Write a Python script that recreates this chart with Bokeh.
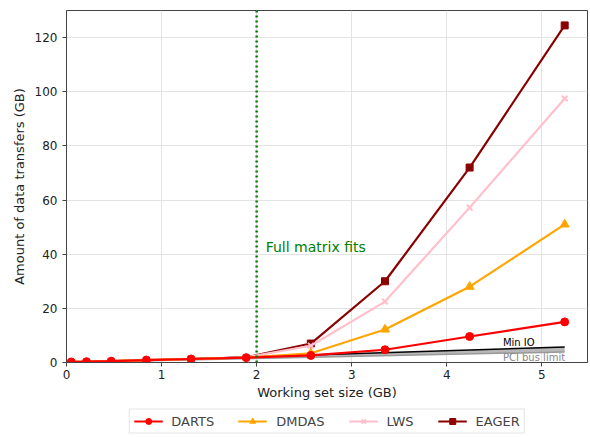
from bokeh.plotting import figure
from bokeh.layouts import column
from bokeh.models import Range1d, Legend, LegendItem, Span, Label, FixedTicker
from bokeh.embed import file_html
from bokeh.resources import INLINE

ws = [0.05, 0.21, 0.47, 0.84, 1.31, 1.89, 2.57, 3.35, 4.24, 5.24]
darts = [0.2, 0.3, 0.5, 0.9, 1.3, 1.8, 2.6, 4.7, 9.6, 15.0]
dmdas = [0.2, 0.3, 0.5, 0.9, 1.3, 1.8, 3.4, 12.2, 28.0, 51.0]
lws = [0.2, 0.3, 0.5, 0.9, 1.3, 1.9, 6.2, 22.5, 57.2, 97.5]
eager = [0.2, 0.3, 0.5, 0.9, 1.3, 1.9, 7.0, 30.0, 72.0, 124.5]
min_io_x = [0.0, 5.24]
min_io = [0.0, 5.7]
pci = [0.0, 3.9]
threshold = 2.0
series_names = ["DARTS", "DMDAS", "LWS", "EAGER"]
series_colors = ["red", "orange", "pink", "darkred"]
series_markers = ["circle", "triangle", "x", "square"]

FONT = "DejaVu Sans"

p = figure(width=590, height=405, output_backend="svg", toolbar_location=None,
           x_range=Range1d(0, 5.48), y_range=Range1d(0, 130),
           min_border_left=66, min_border_right=3, min_border_top=10, min_border_bottom=43)

p.background_fill_color = "white"
p.outline_line_color = "#444444"
p.outline_line_width = 1

for ax in (p.xaxis[0], p.yaxis[0]):
    ax.major_label_text_font = FONT
    ax.major_label_text_font_size = "12px"
    ax.major_label_text_color = "#222222"
    ax.axis_label_text_font = FONT
    ax.axis_label_text_font_size = "13px"
    ax.axis_label_text_font_style = "normal"
    ax.axis_label_text_color = "#222222"
    ax.axis_line_color = "#444444"
    ax.major_tick_line_color = "#444444"
    ax.major_tick_out = 4
    ax.major_tick_in = 0
    ax.minor_tick_line_color = None

p.xaxis.axis_label = "Working set size (GB)"
p.yaxis.axis_label = "Amount of data transfers (GB)"
p.xaxis.ticker = FixedTicker(ticks=[0, 1, 2, 3, 4, 5])
p.yaxis.ticker = FixedTicker(ticks=[0, 20, 40, 60, 80, 100, 120])
p.xaxis.axis_label_standoff = 3
p.yaxis.axis_label_standoff = 5
p.xaxis.major_label_standoff = 3

p.grid.grid_line_color = "#e3e3e3"
p.grid.grid_line_width = 1

# bounds band
p.varea(x=min_io_x, y1=pci, y2=min_io, fill_color="#888888", fill_alpha=0.6)
p.line(min_io_x, pci, line_color="#999999", line_width=1.5)
p.line(min_io_x, min_io, line_color="black", line_width=1.5)

p.line(ws, eager, line_color="darkred", line_width=2.2)
p.scatter(ws[6:], eager[6:], marker="square", size=7, fill_color="darkred", line_color="darkred")
p.line(ws, lws, line_color="pink", line_width=2.2)
p.scatter(ws[6:], lws[6:], marker="x", size=8, line_color="pink", line_width=2)
p.line(ws, dmdas, line_color="orange", line_width=2.2)
p.scatter(ws[6:], dmdas[6:], marker="triangle", size=9, fill_color="orange", line_color="orange")
p.line(ws, darts, line_color="red", line_width=2.2)
p.scatter(ws, darts, marker="circle", size=8, fill_color="red", line_color="red")

p.add_layout(Span(location=threshold, dimension="height", line_color="green",
                  line_width=2.5, line_dash="2 3"))
p.add_layout(Label(x=2.095, y=42.8, text="Full matrix fits", text_color="green",
                   text_font=FONT, text_font_size="14px", text_baseline="middle"))
p.add_layout(Label(x=4.59, y=5.3, text="Min IO", text_color="black",
                   text_font=FONT, text_font_size="10px", text_baseline="bottom"))
p.add_layout(Label(x=4.59, y=3.8, text="PCI bus limit", text_color="#888888",
                   text_font=FONT, text_font_size="10px", text_baseline="top"))

# legend strip (series drawn outside its visible range, only the legend shows)
lg = figure(width=590, height=32, output_backend="svg", toolbar_location=None,
            x_axis_type=None, y_axis_type=None, x_range=Range1d(100, 101), y_range=Range1d(1000, 1001),
            min_border=0, outline_line_color=None)
lg.grid.visible = False
items = []
for name, col, mk, ys in zip(series_names, series_colors, series_markers, [darts, dmdas, lws, eager]):
    r = lg.line(ws, ys, line_color=col, line_width=2.2)
    if mk == "x":
        m = lg.scatter(ws, ys, marker=mk, size=8, line_color=col, line_width=2)
    else:
        m = lg.scatter(ws, ys, marker=mk, size=8, fill_color=col, line_color=col)
    items.append(LegendItem(label=name, renderers=[r, m]))

legend = Legend(items=items, orientation="horizontal", location="center",
                label_text_font=FONT, label_text_font_size="13px",
                glyph_width=29, glyph_height=15, label_height=15,
                label_standoff=9, spacing=24,
                border_line_color="#cccccc", border_line_width=1,
                padding=4, margin=0)
lg.add_layout(legend, "center")

layout = column(p, lg, spacing=0)
open("out.html", "w").write(file_html(layout, INLINE))
